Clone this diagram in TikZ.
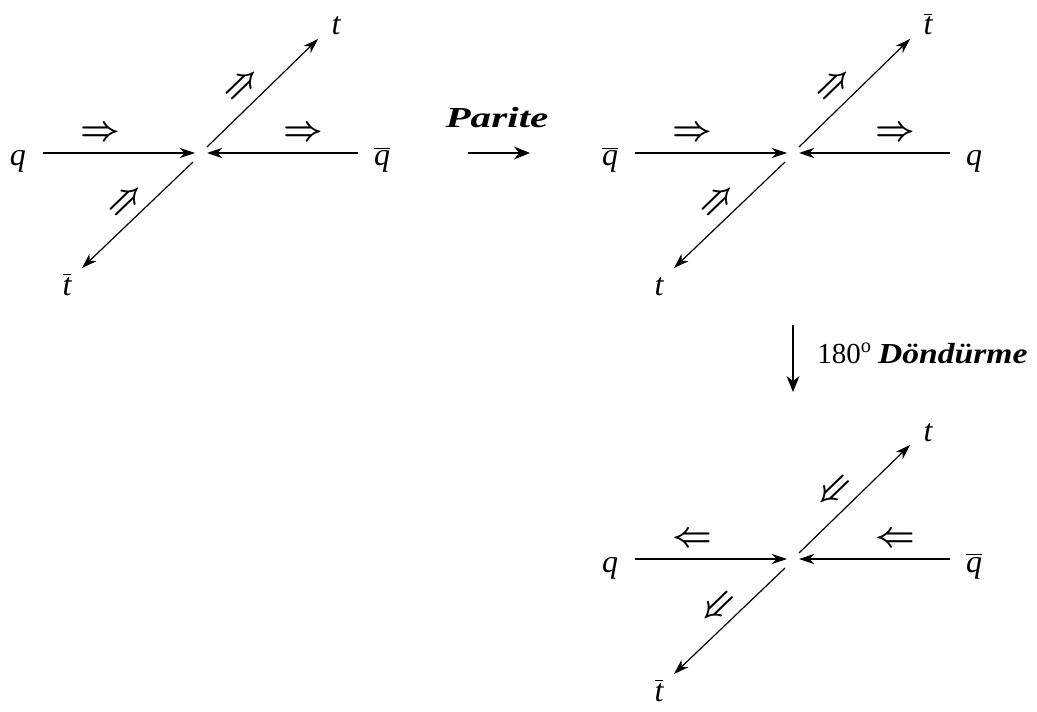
\documentclass[tikz,border=0pt]{standalone}
\usepackage{fontspec}
\setmainfont{Liberation Serif}
\usetikzlibrary{arrows.meta}
\newcommand\barlbl[1]{$\overline{\mbox{#1}}$}
\tikzset{
  lbl/.style={font=\fontsize{16}{18}\selectfont\itshape, inner sep=0pt, anchor=base},
  dbl/.style={font=\fontsize{17.5}{20}\selectfont\boldmath, inner sep=0pt},
  bigword/.style={font=\fontsize{14.5}{17}\selectfont, inner sep=0pt},
  arr/.style={-{Stealth[length=7.5pt,width=5pt,inset=2.2pt]}, line width=0.6pt},
  bigarr/.style={-{Stealth[length=8pt,width=6.5pt,inset=2.5pt]}, line width=0.7pt},
}
\newcommand\feyn[8]{%
\begin{scope}[shift={(#1,#2)}]
  \coordinate (c#3) at (201,153);
  \coordinate (hls#3) at (43,153);
  \coordinate (hle#3) at (195,153);
  \coordinate (hrs#3) at (358,153);
  \coordinate (hre#3) at (207,153);
  \coordinate (dus#3) at (207,147);
  \coordinate (due#3) at (318,39);
  \coordinate (dds#3) at (193,162);
  \coordinate (dde#3) at (82,268);
  \node[lbl] (lq#3) at (18,166) {#4};
  \node[lbl] (rq#3) at (382,166) {#5};
  \node[lbl] (ut#3) at (336,35) {#6};
  \node[lbl] (dt#3) at (67,295) {#7};
  \node[dbl] (ha#3) at (100,134) {#8};
  \node[dbl] (hb#3) at (303,134) {#8};
  \node[dbl,rotate=44] (da#3) at (243,86) {#8};
  \node[dbl,rotate=44] (db#3) at (127,202) {#8};
  \draw[arr] (hls#3) -- (hle#3);
  \draw[arr] (hrs#3) -- (hre#3);
  \draw[arr] (dus#3) -- (due#3);
  \draw[arr] (dds#3) -- (dde#3);
\end{scope}}
\begin{document}
\begin{tikzpicture}[x=0.5pt,y=-0.5pt]
\useasboundingbox (0,0) rectangle (1037,711);
\feyn{0}{0}{A}{q}{\barlbl{q}}{t}{\barlbl{t}}{$\Rightarrow$}
\feyn{592}{0}{B}{\barlbl{q}}{q}{\barlbl{t}}{t}{$\Rightarrow$}
\feyn{592}{406}{C}{q}{\barlbl{q}}{t}{\barlbl{t}}{$\Leftarrow$}
% Parite transformation
\node[bigword, anchor=base] (parite) at (497,128) {\scalebox{1.42}[1]{\bfseries\itshape Parite}};
\coordinate (pa1) at (468,153);
\coordinate (pa2) at (530,153);
\draw[bigarr] (pa1) -- (pa2);
% rotation
\node[bigword, anchor=base west] (rot) at (817,363) {180$^{\mathrm{o}}$\hspace{3pt}\scalebox{1.16}[1]{\bfseries\itshape Döndürme}};
\coordinate (ra1) at (793,325);
\coordinate (ra2) at (793,392);
\draw[bigarr] (ra1) -- (ra2);
\end{tikzpicture}
\end{document}
